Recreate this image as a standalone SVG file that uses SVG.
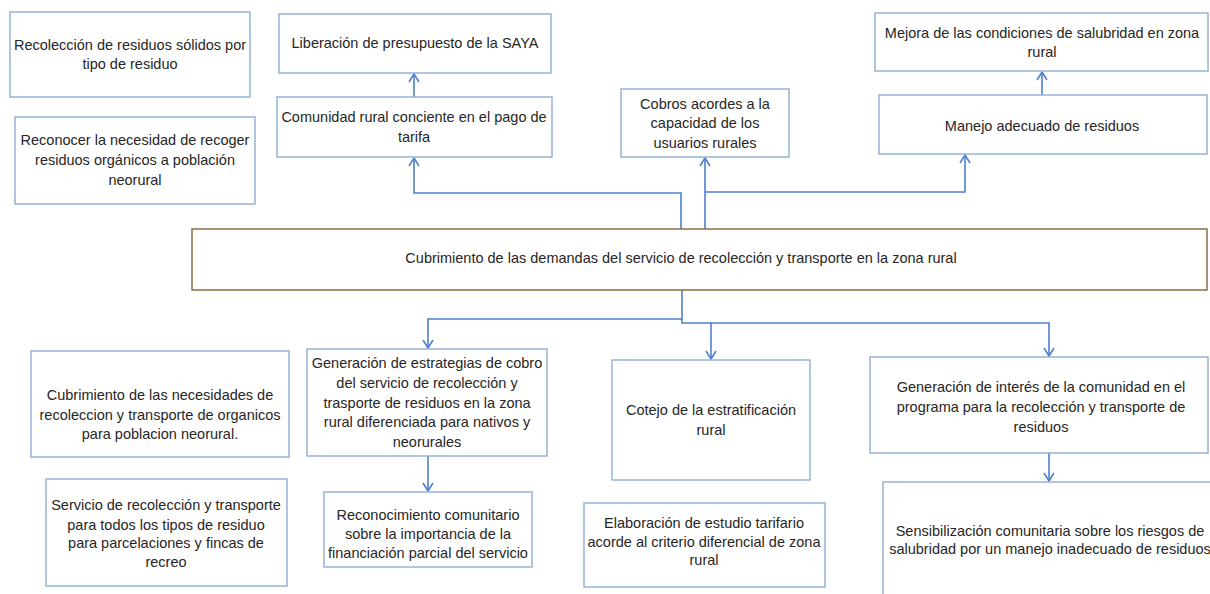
<svg xmlns="http://www.w3.org/2000/svg" width="1210" height="594" viewBox="0 0 1210 594">
<style>
.box{fill:#fff;stroke:#95B3D7;stroke-width:1.5}
.main{fill:#fff;stroke:#8C6D46;stroke-width:1.5}
.t{font-family:"Liberation Sans",Arial,sans-serif;font-size:14.5px;fill:#262626;text-anchor:middle}
.c{fill:none;stroke:#4F7FCF;stroke-width:1.6}
</style>
<defs>
<marker id="ah" viewBox="-10 -7 12 14" refX="0" refY="0" markerWidth="12" markerHeight="14" markerUnits="userSpaceOnUse" orient="auto">
<path d="M-8,-5 L0,0 L-8,5" fill="none" stroke="#4F7FCF" stroke-width="1.6"/>
</marker>
</defs>
<rect width="1210" height="594" fill="#fff"/>
<g id="connectors">
<path class="c" d="M681,229 V193 H414 V158" marker-end="url(#ah)"/>
<path class="c" d="M705,229 V158" marker-end="url(#ah)"/>
<path class="c" d="M705,192 H965 V155" marker-end="url(#ah)"/>
<path class="c" d="M414,97 V74" marker-end="url(#ah)"/>
<path class="c" d="M1042,95 V72" marker-end="url(#ah)"/>
<path class="c" d="M682,290 V319 H428 V348" marker-end="url(#ah)"/>
<path class="c" d="M682,319 V323 H1049 V356" marker-end="url(#ah)"/>
<path class="c" d="M711,323 V359" marker-end="url(#ah)"/>
<path class="c" d="M428,456 V491" marker-end="url(#ah)"/>
<path class="c" d="M1049,453 V481" marker-end="url(#ah)"/>
</g>
<g id="n1"><rect class="box" x="10" y="12" width="240" height="85"/>
<text class="t"><tspan x="130" y="50">Recolección de residuos sólidos por</tspan><tspan x="130" y="69">tipo de residuo</tspan></text></g>
<g id="n2"><rect class="box" x="15" y="117" width="240" height="87"/>
<text class="t"><tspan x="135" y="145">Reconocer la necesidad de recoger</tspan><tspan x="135" y="165">residuos orgánicos a población</tspan><tspan x="135" y="185">neorural</tspan></text></g>
<g id="n3"><rect class="box" x="279" y="14" width="272" height="59"/>
<text class="t"><tspan x="415" y="48">Liberación de presupuesto de la SAYA</tspan></text></g>
<g id="n4"><rect class="box" x="277" y="97" width="275" height="60"/>
<text class="t"><tspan x="414" y="122">Comunidad rural conciente en el pago de</tspan><tspan x="414" y="142">tarifa</tspan></text></g>
<g id="n5"><rect class="box" x="621" y="89" width="168" height="68"/>
<text class="t"><tspan x="705" y="109">Cobros acordes a la</tspan><tspan x="705" y="128">capacidad de los</tspan><tspan x="705" y="148">usuarios rurales</tspan></text></g>
<g id="n6"><rect class="box" x="875" y="13" width="333" height="58"/>
<text class="t"><tspan x="1042" y="38">Mejora de las condiciones de salubridad en zona</tspan><tspan x="1042" y="57">rural</tspan></text></g>
<g id="n7"><rect class="box" x="879" y="95" width="328" height="59"/>
<text class="t"><tspan x="1042" y="131">Manejo adecuado de residuos</tspan></text></g>
<g id="n8"><rect class="main" x="192" y="229" width="1015" height="61"/>
<text class="t"><tspan x="681" y="263">Cubrimiento de las demandas del servicio de recolección y transporte en la zona rural</tspan></text></g>
<g id="n9"><rect class="box" x="31" y="351" width="258" height="106"/>
<text class="t"><tspan x="160" y="400">Cubrimiento de las necesidades de</tspan><tspan x="160" y="420">recoleccion y transporte de organicos</tspan><tspan x="160" y="439">para poblacion neorural.</tspan></text></g>
<g id="n10"><rect class="box" x="46" y="479" width="241" height="107"/>
<text class="t"><tspan x="166" y="510">Servicio de recolección y transporte</tspan><tspan x="166" y="530">para todos los tipos de residuo</tspan><tspan x="166" y="548">para parcelaciones y fincas de</tspan><tspan x="166" y="567">recreo</tspan></text></g>
<g id="n11"><rect class="box" x="307" y="349" width="240" height="107"/>
<text class="t"><tspan x="427" y="368">Generación de estrategias de cobro</tspan><tspan x="427" y="388">del servicio de recolección y</tspan><tspan x="427" y="408">trasporte de residuos en la zona</tspan><tspan x="427" y="427">rural diferenciada para nativos y</tspan><tspan x="427" y="447">neorurales</tspan></text></g>
<g id="n12"><rect class="box" x="324" y="492" width="208" height="75"/>
<text class="t"><tspan x="428" y="520">Reconocimiento comunitario</tspan><tspan x="428" y="539">sobre la importancia de la</tspan><tspan x="428" y="558">financiación parcial del servicio</tspan></text></g>
<g id="n13"><rect class="box" x="612" y="360" width="198" height="120"/>
<text class="t"><tspan x="711" y="415">Cotejo de la estratificación</tspan><tspan x="711" y="435">rural</tspan></text></g>
<g id="n14"><rect class="box" x="584" y="503" width="241" height="84"/>
<text class="t"><tspan x="704" y="528">Elaboración de estudio tarifario</tspan><tspan x="704" y="547">acorde al criterio diferencial de zona</tspan><tspan x="704" y="565">rural</tspan></text></g>
<g id="n15"><rect class="box" x="870" y="357" width="338" height="96"/>
<text class="t"><tspan x="1041" y="392">Generación de interés de la comunidad en el</tspan><tspan x="1041" y="412">programa para la recolección y transporte de</tspan><tspan x="1041" y="432">residuos</tspan></text></g>
<g id="n16"><rect class="box" x="883" y="482" width="360" height="140"/>
<text class="t"><tspan x="1050" y="536">Sensibilización comunitaria sobre los riesgos de</tspan><tspan x="1050" y="554">salubridad por un manejo inadecuado de residuos</tspan></text></g>
</svg>
